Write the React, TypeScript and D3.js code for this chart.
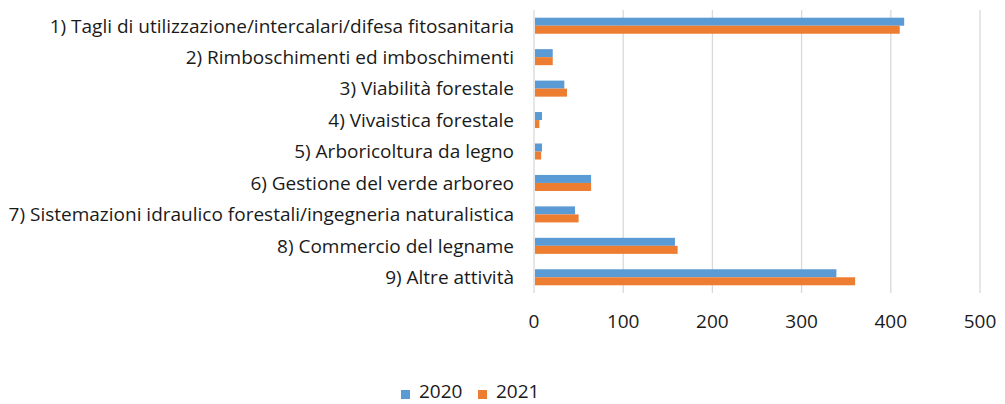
import React from 'react';
import * as d3 from 'd3';

const width = 1005;
const height = 404;
const margin = {
  top: 10, right: 25, bottom: 111, left: 534,
};

const categories = [
  '1) Tagli di utilizzazione/intercalari/difesa fitosanitaria',
  '2) Rimboschimenti ed imboschimenti',
  '3) Viabilità forestale',
  '4) Vivaistica forestale',
  '5) Arboricoltura da legno',
  '6) Gestione del verde arboreo',
  '7) Sistemazioni idraulico forestali/ingegneria naturalistica',
  '8) Commercio del legname',
  '9) Altre attività',
];
const series = ['2020', '2021'];
const values2020 = [415, 21, 34, 9, 9, 64, 46, 158, 339];
const values2021 = [410, 21, 37, 6, 8, 64, 50, 161, 360];
const xTicks = [0, 100, 200, 300, 400, 500];

const colors = ['#5b9bd5', '#ed7d31'];
const font = '"Open Sans", sans-serif';
const fs = 19;

const App = () => {
  const x = d3.scaleLinear()
    .domain([0, 500])
    .range([margin.left, width - margin.right]);

  const y = d3.scaleBand()
    .domain(categories)
    .range([margin.top, height - margin.bottom])
    .paddingInner(0.49)
    .paddingOuter(0.245);

  const inner = d3.scaleBand()
    .domain(series)
    .range([0, y.bandwidth()]);

  const rows = categories.map((c, i) => ({ c, vals: [values2020[i], values2021[i]] }));

  return (
    <svg width={width} height={height} style={{ position: 'absolute', left: 0, top: 0 }}>
      <rect width={width} height={height} fill="#fff" />
      {xTicks.map(t => (
        <g key={t}>
          <line x1={x(t)} x2={x(t)} y1={margin.top} y2={height - margin.bottom} stroke="#d9d9d9" strokeWidth={1.3} />
          <text x={x(t)} y={328} textAnchor="middle" fontFamily={font} fontSize={fs} fill="#1a1a1a">{t}</text>
        </g>
      ))}
      {rows.map(row => (
        <g key={row.c}>
          {row.vals.map((v, j) => (
            <rect
              key={series[j]}
              x={x(0) + 1}
              y={y(row.c) + inner(series[j])}
              width={x(v) - x(0) - 1}
              height={inner.bandwidth()}
              fill={colors[j]}
            />
          ))}
          <text
            x={514}
            y={y(row.c) + y.bandwidth() / 2}
            dy="0.36em"
            textAnchor="end"
            fontFamily={font}
            fontSize={fs}
            fill="#1a1a1a"
          >
            {row.c}
          </text>
        </g>
      ))}
      {series.map((s, j) => (
        <g key={s} transform={`translate(${401 + j * 77}, 0)`}>
          <rect x={0} y={390} width={9} height={9} fill={colors[j]} />
          <text x={18} y={398} fontFamily={font} fontSize={fs} fill="#1a1a1a">{s}</text>
        </g>
      ))}
    </svg>
  );
};

export default App;
